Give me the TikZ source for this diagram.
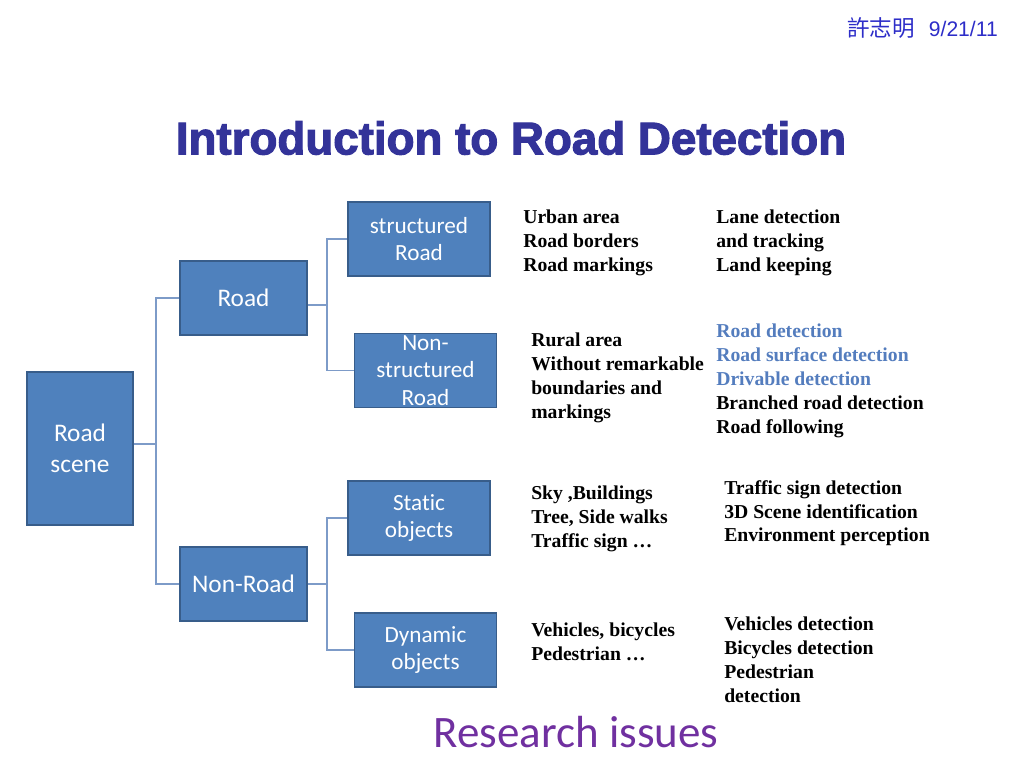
\documentclass[tikz,border=0pt]{standalone}
\usepackage{fontspec}
\setmainfont{Liberation Serif}
\newfontfamily\boxfont[Ligatures=NoCommon]{Carlito}
\newfontfamily\titlefont[FakeBold=2.5]{Liberation Sans Bold}
\newfontfamily\datefont{Liberation Sans}
\newfontfamily\cjkfont{Noto Sans CJK TC}
\usepackage{tikz}
\definecolor{boxfill}{RGB}{79,129,189}
\definecolor{boxedge}{RGB}{56,93,138}
\definecolor{linkblue}{RGB}{125,155,200}
\definecolor{titleblue}{RGB}{51,51,153}
\definecolor{issueblue}{RGB}{84,125,190}
\definecolor{issuepurple}{RGB}{112,48,160}
\definecolor{dateblue}{RGB}{45,45,200}

\begin{document}
\begin{tikzpicture}[x=0.025cm,y=-0.025cm,
	box/.style={draw=boxedge,fill=boxfill,line width=1.2pt,text=white,align=center,inner sep=0pt,
		minimum width=3.55cm,minimum height=1.85cm,font=\boxfont\fontsize{16.5}{19.5}\selectfont},
	bigbox/.style={box,font=\boxfont\fontsize{18}{22}\selectfont},
	link/.style={draw=linkblue,line width=0.8pt},
	info/.style={anchor=north west,inner sep=0pt,align=left,font=\fontsize{14}{17}\selectfont\bfseries}]
	\useasboundingbox (0,0) rectangle (1024,768);
	% header and title
	\node[anchor=east,text=dateblue,inner sep=0pt] (date) at (998,28) {{\cjkfont\fontsize{16}{16}\selectfont 許志明}\hspace{10pt}{\datefont\fontsize{15}{15}\selectfont 9/21/11}};
	\node[text=titleblue,font=\titlefont\fontsize{32.5}{32.5}\selectfont] (title) at (511,138) {Introduction to Road Detection};
	% tree
	\node[bigbox,minimum width=2.65cm,minimum height=3.825cm] (scene) at (80,448.5) {Road\\scene};
	\node[bigbox,minimum width=3.175cm] (road) at (243.5,298) {Road};
	\node[bigbox,minimum width=3.175cm] (nonroad) at (243.5,584) {Non-Road};
	\node[box] (struct) at (419,239) {structured\\Road};
	\node[box] (nonstruct) at (425.5,370.5) {Non-\\structured\\Road};
	\node[box] (static) at (419,518) {Static\\objects};
	\node[box] (dynamic) at (425.5,650) {Dynamic\\objects};
	\coordinate (t1) at (156,444);
	\coordinate (t2) at (327,305);
	\coordinate (t3) at (327,584);
	\draw[link] (scene.east |- t1) -- (t1);
	\draw[link] (road.west) -| (t1) |- (nonroad.west);
	\draw[link] (road.east |- t2) -- (t2);
	\draw[link] (struct.west) -| (t2) |- (nonstruct.west);
	\draw[link] (nonroad.east |- t3) -- (t3);
	\draw[link] (static.west) -| (t3) |- (dynamic.west);
	% descriptions
	\node[info] (urban) at (523,210) {Urban area\\Road borders\\Road markings};
	\node[info] (lane) at (716,210) {Lane detection\\and tracking\\Land keeping};
	\node[info] (rural) at (531,333) {Rural area\\Without remarkable\\boundaries and\\markings};
	\node[info] (roaddet) at (716,324) {\textcolor{issueblue}{Road detection}\\\textcolor{issueblue}{Road surface detection}\\\textcolor{issueblue}{Drivable detection}\\Branched road detection\\Road following};
	\node[info] (sky) at (531,486) {Sky ,Buildings\\Tree, Side walks\\Traffic sign …};
	\node[info] (sign) at (724,480) {Traffic sign detection\\3D Scene identification\\Environment perception};
	\node[info] (vehicles) at (531,623) {Vehicles, bicycles\\Pedestrian …};
	\node[info] (vehdet) at (724,617) {Vehicles detection\\Bicycles detection\\Pedestrian\\detection};
	\node[text=issuepurple,font=\boxfont\fontsize{32}{32}\selectfont] (issues) at (576,732) {Research issues};
\end{tikzpicture}
\end{document}
